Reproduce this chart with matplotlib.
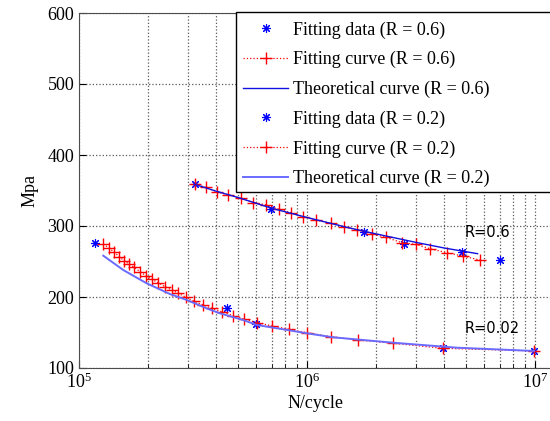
import numpy as np
import matplotlib
matplotlib.use('Agg')
from matplotlib import pyplot as plt
from matplotlib.patches import Rectangle

# R = 0.6 series
data06_n = [3.23e5, 6.95e5, 1.78e6, 2.67e6, 4.80e6, 7.02e6]
data06_s = [359, 324, 292, 274, 263, 252]

fit06_n = [3.23e5, 3.59e5, 4.04e5, 4.52e5, 5.13e5, 5.81e5, 6.59e5, 7.54e5, 8.51e5, 9.63e5, 1.10e6,
           1.27e6, 1.46e6, 1.66e6, 1.93e6, 2.22e6, 2.61e6, 3.01e6, 3.46e6, 4.10e6, 4.82e6, 5.74e6]
fit06_s = [359, 354.5, 348, 343.7, 339, 333, 330, 323.5, 318.7, 313, 308.5,
           303.8, 299, 294.4, 289, 284, 276.5, 274, 268, 262.4, 257.7, 252]

theo06_n = [3.2e5, 4e5, 5e5, 7e5, 1e6, 1.5e6, 2e6, 3e6, 4e6, 5.6e6]
theo06_s = [359, 349, 340, 325, 312, 298, 289, 277, 269, 261]

# R = 0.2 series
data02_n = [1.175e5, 4.44e5, 5.96e5, 3.96e6, 9.9e6]
data02_s = [275.6, 185, 161.5, 128, 124]

fit02_n = [1.278e5, 1.358e5, 1.428e5, 1.502e5, 1.576e5, 1.663e5, 1.748e5, 1.852e5, 1.967e5, 2.084e5,
           2.227e5, 2.384e5, 2.55e5, 2.726e5, 2.946e5, 3.195e5, 3.51e5, 3.82e5, 4.225e5, 4.75e5,
           5.29e5, 6.05e5, 7.04e5, 8.34e5, 1.003e6, 1.27e6, 1.679e6, 2.39e6, 3.96e6, 9.9e6]
fit02_s = [274.6, 268.6, 263, 256.8, 251.1, 246.1, 241.8, 235.6, 230, 225,
           220.1, 214.5, 209.9, 205.2, 199.6, 194, 188.7, 184.1, 179.3, 173.7,
           169, 163.8, 159.2, 154.5, 149.7, 144.1, 139.4, 134.8, 127.7, 124]

theo02_n = [1.278e5, 1.564e5, 1.98e5, 2.506e5, 2.97e5, 3.63e5, 4.15e5, 5.25e5, 6.02e5, 7.87e5,
            9.97e5, 1.305e6, 2.39e6, 4.54e6, 9.9e6]
theo02_s = [258.2, 238, 219.3, 204.2, 195.8, 184, 177, 167.6, 160.6, 154.5,
            148.9, 143.2, 135.6, 128.6, 124]

labels = ['Fitting data (R = 0.6)', 'Fitting curve (R = 0.6)', 'Theoretical curve (R = 0.6)',
          'Fitting data (R = 0.2)', 'Fitting curve (R = 0.2)', 'Theoretical curve (R = 0.2)']

plt.rcParams['font.family'] = ['Liberation Serif', 'DejaVu Serif']
plt.rcParams['mathtext.fontset'] = 'custom'
plt.rcParams['mathtext.rm'] = 'Liberation Serif'

fig = plt.figure(figsize=(5.5, 4.21), dpi=100)
ax = fig.add_axes([79 / 550, 53 / 421, 474 / 550, 355 / 421])

star = (8, 2, 0)
ax.plot(data06_n, data06_s, linestyle='none', marker=star, color='blue', ms=6.5, mew=0.8, label=labels[0])
ax.plot(fit06_n, fit06_s, 'r:', marker='+', ms=8, mew=1, lw=0.9, label=labels[1])
ax.plot(theo06_n, theo06_s, '-', color='#1010e0', lw=1, label=labels[2])
ax.plot(data02_n, data02_s, linestyle='none', marker=star, color='blue', ms=6.5, mew=0.8, label=labels[3])
ax.plot(fit02_n, fit02_s, 'r:', marker='+', ms=8, mew=1, lw=0.9, label=labels[4])
ax.plot(theo02_n, theo02_s, '-', color='#6a6aff', lw=1.4, label=labels[5])

ax.set_xscale('log')
x_right = 10 ** (5 + 474 / 228)
ax.set_xlim(1e5, x_right)
ax.set_ylim(100, 600)
ax.set_xticks([1e5, 1e6, 1e7])
ax.set_yticks([100, 200, 300, 400, 500, 600])
ax.grid(True, which='major', linestyle=':', color='0.35', lw=0.9)
ax.grid(True, which='minor', axis='x', linestyle=':', color='0.35', lw=0.9)
ax.tick_params(which='both', direction='in', labelsize=13, top=False, right=False)
ax.tick_params(which='major', length=5)
ax.tick_params(which='minor', length=3)
for sp in ax.spines.values():
    sp.set_color('0.3')

ax.set_xlabel('N/cycle', fontsize=13, labelpad=2)
ax.set_ylabel('Mpa', fontsize=13, labelpad=6)

ax.text(4.9e6, 291, 'R=0.6', family='DejaVu Sans', fontsize=10.5, va='center')
ax.text(4.9e6, 155, 'R=0.02', family='DejaVu Sans', fontsize=10.5, va='center')

# legend box runs off the right edge of the figure
box = Rectangle((236 / 550, 1 - 192 / 421), 330 / 550, 180 / 421, transform=fig.transFigure,
                facecolor='white', edgecolor='black', lw=1, zorder=1)
fig.add_artist(box)
handles, _ = ax.get_legend_handles_labels()
leg = fig.legend(handles, labels, loc='upper left', bbox_to_anchor=(236 / 550, 1 - 14 / 421),
                 fontsize=13, frameon=False, borderaxespad=0, handlelength=2.5,
                 handletextpad=0.28, labelspacing=0.69, borderpad=0.4)
leg.set_zorder(2)

fig.savefig('out.png', dpi=100)
